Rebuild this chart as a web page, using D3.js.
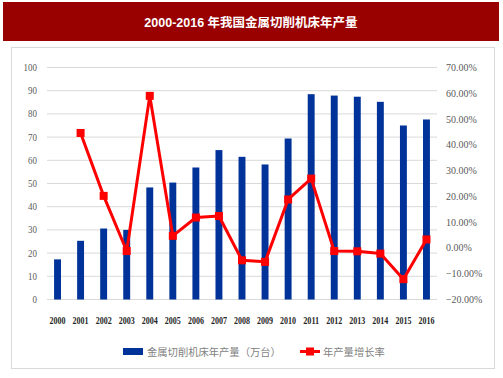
<!DOCTYPE html>
<html>
<head>
<meta charset="utf-8">
<script src="https://cdn.jsdelivr.net/npm/d3@7"></script>
<style>
  body { margin: 0; background: #fff; }
  svg { display: block; }
</style>
</head>
<body>
<svg id="chart" width="503" height="378"></svg>
<script>
// data
let years = ['2000','2001','2002','2003','2004','2005','2006','2007','2008',
	'2009','2010','2011','2012','2013','2014','2015','2016'];
let output = [17.3, 25.3, 30.6, 30.0, 48.3, 50.4, 56.9, 64.4, 61.5,
	58.2, 69.4, 88.5, 87.9, 87.4, 85.2, 75.0, 77.6];
let growth = [null, 44.6, 20.2, -1.2, 59.0, 4.7, 11.8, 12.4, -4.8,
	-5.4, 18.8, 26.9, -1.2, -1.3, -2.2, -12.1, 3.3];
let leftTicks = [0, 10, 20, 30, 40, 50, 60, 70, 80, 90, 100];
let rightTicks = [-20, -10, 0, 10, 20, 30, 40, 50, 60, 70];
let title = '2000-2016 年我国金属切削机床年产量';
let seriesNames = ['金属切削机床年产量（万台）', '年产量增长率'];

let svg = d3.select('#chart');
let barColor = '#003399';
let lineColor = '#ff0000';
let serif = '"Liberation Serif", "Times New Roman", serif';
let cjk = '"Noto Sans CJK SC", "Noto Sans", sans-serif';

// title band
svg.append('rect')
	.attr('x', 3).attr('y', 2)
	.attr('width', 496).attr('height', 39)
	.attr('fill', '#990000');
svg.append('text')
	.attr('x', 251).attr('y', 26.5)
	.attr('text-anchor', 'middle')
	.attr('fill', '#fff')
	.attr('font-family', '"Liberation Sans", Arial, ' + cjk)
	.attr('font-weight', 'bold')
	.attr('font-size', 12.5)
	.text(title);

// chart frame
svg.append('rect')
	.attr('x', 11.5).attr('y', 47.5)
	.attr('width', 483).attr('height', 321)
	.attr('fill', '#fff')
	.attr('stroke', '#d9d9d9');

let x = d3.scaleBand()
	.domain(years)
	.range([46, 438])
	.paddingInner(0.7)
	.paddingOuter(0.35);

let y = d3.scaleLinear().domain([0, 100]).range([299.5, 67.5]);
let y2 = d3.scaleLinear().domain([-20, 70]).range([299.5, 67.5]);

// gridlines
svg.append('g')
	.selectAll('line')
	.data(leftTicks)
	.join('line')
	.attr('x1', 47).attr('x2', 437)
	.attr('y1', d => y(d)).attr('y2', d => y(d))
	.attr('stroke', '#d9d9d9')
	.attr('stroke-width', 1);

// left axis labels
svg.append('g')
	.selectAll('text')
	.data(leftTicks)
	.join('text')
	.attr('transform', d => `translate(37,${y(d) + 3.5}) scale(0.85,1)`)
	.attr('text-anchor', 'end')
	.attr('font-family', serif)
	.attr('font-size', 10.5)
	.attr('fill', '#595959')
	.text(d => d);

// right axis labels
svg.append('g')
	.selectAll('text')
	.data(rightTicks)
	.join('text')
	.attr('transform', d => `translate(446,${y2(d) + 3.5}) scale(0.95,1)`)
	.attr('font-family', serif)
	.attr('font-size', 10.5)
	.attr('fill', '#595959')
	.text(d => d3.format('.2f')(d) + '%');

// year labels
svg.append('g')
	.selectAll('text')
	.data(years)
	.join('text')
	.attr('x', d => x(d) + x.bandwidth() / 2 - 8)
	.attr('y', 324)
	.attr('textLength', 16)
	.attr('lengthAdjust', 'spacingAndGlyphs')
	.attr('font-family', serif)
	.attr('font-weight', 'bold')
	.attr('font-size', 11)
	.attr('fill', '#262626')
	.text(d => d);

// bars
svg.append('g')
	.selectAll('rect')
	.data(output)
	.join('rect')
	.attr('x', (d, i) => x(years[i]))
	.attr('y', d => y(d))
	.attr('width', x.bandwidth())
	.attr('height', d => y(0) - y(d))
	.attr('fill', barColor);

// growth line
let pts = growth.map((g, i) => ({year: years[i], g: g})).filter(d => d.g !== null);
let line = d3.line()
	.x(d => x(d.year) + x.bandwidth() / 2)
	.y(d => y2(d.g));

svg.append('path')
	.datum(pts)
	.attr('d', line)
	.attr('fill', 'none')
	.attr('stroke', lineColor)
	.attr('stroke-width', 3)
	.attr('stroke-linejoin', 'round');

svg.append('g')
	.selectAll('rect')
	.data(pts)
	.join('rect')
	.attr('x', d => x(d.year) + x.bandwidth() / 2 - 4)
	.attr('y', d => y2(d.g) - 4)
	.attr('width', 8).attr('height', 8)
	.attr('fill', lineColor);

// legend
let legend = svg.append('g').attr('font-family', cjk).attr('font-size', 10.3).attr('fill', '#7f7f7f');
legend.append('rect')
	.attr('x', 123).attr('y', 348)
	.attr('width', 20).attr('height', 7)
	.attr('fill', barColor);
legend.append('text')
	.attr('x', 147).attr('y', 355.5)
	.text(seriesNames[0]);
legend.append('line')
	.attr('x1', 300).attr('x2', 320)
	.attr('y1', 351.5).attr('y2', 351.5)
	.attr('stroke', lineColor)
	.attr('stroke-width', 3);
legend.append('rect')
	.attr('x', 306).attr('y', 347.5)
	.attr('width', 8).attr('height', 8)
	.attr('fill', lineColor);
legend.append('text')
	.attr('x', 323).attr('y', 355.5)
	.text(seriesNames[1]);
</script>
</body>
</html>
